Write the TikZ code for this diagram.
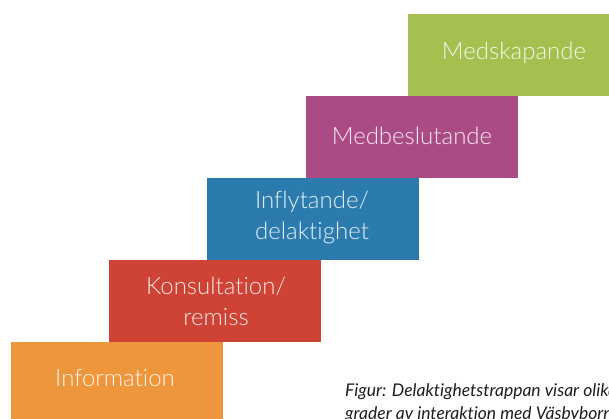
\documentclass[tikz,border=0pt]{standalone}
\usepackage{fontspec}
\setmainfont{Lato}[Ligatures={NoCommon}]
\newfontfamily\lightfont{Lato Light}[Ligatures={NoCommon}]
\definecolor{cgreen}{HTML}{A5C04F}
\definecolor{cpurple}{HTML}{AB4B86}
\definecolor{cblue}{HTML}{2C7BAE}
\definecolor{cred}{HTML}{CF4236}
\definecolor{corange}{HTML}{ED963C}
\definecolor{ccap}{HTML}{1E1E1E}
\begin{document}
\begin{tikzpicture}[x=1pt,y=1pt,
  stepbox/.style={rectangle, minimum width=212pt, minimum height=82pt, inner sep=0pt, draw=none},
  steplabel/.style={text=white, text opacity=0.88, font=\lightfont\fontsize{24}{31}\selectfont, align=center, inner sep=0pt},
  caption/.style={text=ccap, font=\itshape\fontsize{17.5}{22}\selectfont, inner sep=0pt, anchor=base west}]
\useasboundingbox (0,0) rectangle (609,419);
\clip (0,0) rectangle (609,419);
\fill[white] (0,0) rectangle (609,419);
\node[stepbox, fill=corange] (b1) at (117,36) {};
\node[stepbox, fill=cred] (b2) at (215,118) {};
\node[stepbox, fill=cblue] (b3) at (313,200) {};
\node[stepbox, fill=cpurple] (b4) at (412,281.5) {};
\node[stepbox, fill=cgreen] (b5) at (514,363.5) {};
\node[steplabel] (t1) at ([xshift=-2pt,yshift=5pt]b1.center) {Information};
\node[steplabel] (t2) at ([xshift=1pt,yshift=0pt]b2.center) {Konsultation/\\remiss};
\node[steplabel] (t3) at ([xshift=-1pt,yshift=1pt]b3.center) {Inflytande/\\delaktighet};
\node[steplabel] (t4) at ([yshift=2pt]b4.center) {Medbeslutande};
\node[steplabel] (t5) at ([yshift=3pt]b5.center) {Medskapande};
\node[caption] (c1) at (345,22) {Figur: Delaktighetstrappan visar olika};
\node[caption] (c2) at (345,-1) {grader av interaktion med Väsbyborna};
\end{tikzpicture}
\end{document}
